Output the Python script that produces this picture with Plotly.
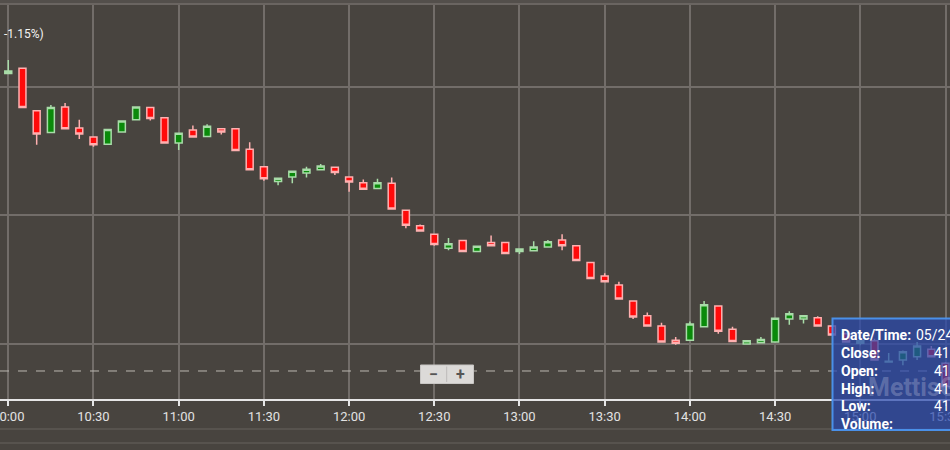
import plotly.graph_objects as go

# ---------------- data ----------------
day = "2024-05-24"
times = [f"{day} {10 + (5 * i) // 60:02d}:{(5 * i) % 60:02d}" for i in range(67)]

opens = [41.921, 41.929, 41.863, 41.829, 41.869, 41.836, 41.822, 41.811, 41.830, 41.849,
         41.868, 41.852, 41.813, 41.833, 41.823, 41.835, 41.835, 41.803, 41.776, 41.753,
         41.760, 41.766, 41.771, 41.775, 41.760, 41.751, 41.742, 41.750, 41.708, 41.684,
         41.671, 41.649, 41.661, 41.644, 41.658, 41.658, 41.644, 41.645, 41.651, 41.662,
         41.653, 41.627, 41.606, 41.592, 41.567, 41.544, 41.528, 41.506, 41.506, 41.527,
         41.559, 41.523, 41.500, 41.502, 41.503, 41.539, 41.539, 41.541, 41.528, 41.516,
         41.501, 41.505, 41.472, 41.475, 41.480, 41.492, 41.470]
highs = [41.942, 41.930, 41.864, 41.872, 41.875, 41.849, 41.822, 41.834, 41.847, 41.869,
         41.868, 41.852, 41.828, 41.840, 41.842, 41.835, 41.835, 41.814, 41.776, 41.758,
         41.769, 41.776, 41.780, 41.775, 41.760, 41.756, 41.757, 41.759, 41.708, 41.686,
         41.671, 41.665, 41.661, 41.652, 41.669, 41.658, 41.648, 41.660, 41.662, 41.671,
         41.653, 41.627, 41.610, 41.597, 41.567, 41.549, 41.533, 41.511, 41.535, 41.567,
         41.559, 41.527, 41.505, 41.511, 41.540, 41.551, 41.544, 41.543, 41.528, 41.518,
         41.510, 41.508, 41.486, 41.490, 41.503, 41.497, 41.472]
lows = [41.920, 41.868, 41.810, 41.829, 41.835, 41.819, 41.807, 41.811, 41.830, 41.849,
        41.848, 41.813, 41.802, 41.822, 41.823, 41.826, 41.801, 41.771, 41.754, 41.747,
        41.750, 41.759, 41.771, 41.763, 41.737, 41.741, 41.742, 41.710, 41.680, 41.676,
        41.653, 41.646, 41.644, 41.644, 41.653, 41.641, 41.640, 41.645, 41.651, 41.646,
        41.630, 41.602, 41.597, 41.570, 41.539, 41.528, 41.503, 41.499, 41.506, 41.527,
        41.516, 41.504, 41.500, 41.502, 41.503, 41.530, 41.532, 41.528, 41.514, 41.503,
        41.498, 41.475, 41.471, 41.467, 41.475, 41.480, 41.434]
closes = [41.925, 41.868, 41.827, 41.868, 41.835, 41.827, 41.810, 41.834, 41.847, 41.869,
          41.851, 41.813, 41.828, 41.822, 41.839, 41.830, 41.801, 41.771, 41.757, 41.758,
          41.769, 41.772, 41.777, 41.767, 41.752, 41.741, 41.751, 41.710, 41.685, 41.676,
          41.655, 41.656, 41.644, 41.652, 41.653, 41.641, 41.648, 41.651, 41.659, 41.653,
          41.630, 41.602, 41.597, 41.570, 41.542, 41.528, 41.503, 41.501, 41.531, 41.561,
          41.520, 41.504, 41.505, 41.507, 41.540, 41.547, 41.544, 41.528, 41.514, 41.503,
          41.505, 41.475, 41.473, 41.488, 41.497, 41.480, 41.434]

ref_line_price = 41.458
x_range = [f"{day} 09:57:05", f"{day} 15:31:35"]
y_range = [41.4144, 42.0276]
tip_labels = ["Date/Time:", "Close:", "Open:", "High:", "Low:", "Volume:"]
tip_values = ["05/24", "41.47", "41.50", "41.51", "41.46", ""]
change_text = "-1.15%)"

# ---------------- layout helpers ----------------
W, H = 950, 450
M_T, M_B = 5, 51
PLOT_H = H - M_T - M_B


def px_x(x):
    return x / W


def px_y(y):
    return (H - M_B - y) / PLOT_H


BG = "#48443f"
GRID = "#726d69"

fig = go.Figure()
fig.add_trace(go.Candlestick(
    x=times, open=opens, high=highs, low=lows, close=closes,
    increasing=dict(fillcolor="#0a8a0a", line=dict(color="#a8dca8", width=1.5)),
    decreasing=dict(fillcolor="#ff0a0a", line=dict(color="#ffb0b0", width=1.5)),
    whiskerwidth=0, hoverinfo="skip", showlegend=False,
))

shapes = []
# top strip + border
shapes.append(dict(type="rect", xref="paper", yref="paper", x0=0, x1=1,
                   y0=1, y1=px_y(0), fillcolor="#534f4b", line=dict(width=0), layer="below"))
shapes.append(dict(type="line", xref="paper", yref="paper", x0=0, x1=1,
                   y0=px_y(4), y1=px_y(4), line=dict(color="#6a6561", width=2)))
# dashed reference line
shapes.append(dict(type="line", xref="paper", yref="y", x0=0, x1=1,
                   y0=ref_line_price, y1=ref_line_price,
                   line=dict(color="#bcb7b2", width=1, dash="dash")))
# bottom separator lines
for yy in (429, 443):
    shapes.append(dict(type="line", xref="paper", yref="paper", x0=0, x1=1,
                       y0=px_y(yy), y1=px_y(yy), line=dict(color="#5d5854", width=1.5)))
# zoom control
shapes.append(dict(type="rect", xref="paper", yref="paper",
                   x0=px_x(420.5), x1=px_x(473.5), y0=px_y(383.5), y1=px_y(365),
                   fillcolor="#dcdad8", line=dict(color="#c8c6c4", width=1)))
shapes.append(dict(type="line", xref="paper", yref="paper",
                   x0=px_x(446.7), x1=px_x(446.7), y0=px_y(382), y1=px_y(366.5),
                   line=dict(color="#bdbbb9", width=1)))
# tooltip box
shapes.append(dict(type="rect", xref="paper", yref="paper",
                   x0=px_x(832.5), x1=px_x(960), y0=px_y(430), y1=px_y(318.5),
                   fillcolor="rgba(40,72,175,0.72)", line=dict(color="#4a90e8", width=2),
                   layer="above"))

annotations = []
annotations.append(dict(xref="paper", yref="paper", x=px_x(2), y=px_y(34),
                        xanchor="left", yanchor="middle", text=change_text, showarrow=False,
                        font=dict(family="Roboto", size=12, color="#f2f2f2")))
annotations.append(dict(xref="paper", yref="paper", x=px_x(433.5), y=px_y(374),
                        xanchor="center", yanchor="middle", text="<b>−</b>", showarrow=False,
                        font=dict(family="Roboto", size=16, color="#555555")))
annotations.append(dict(xref="paper", yref="paper", x=px_x(460), y=px_y(374),
                        xanchor="center", yanchor="middle", text="<b>+</b>", showarrow=False,
                        font=dict(family="Roboto", size=16, color="#555555")))
# watermark
annotations.append(dict(xref="paper", yref="paper", x=px_x(866), y=px_y(387),
                        xanchor="left", yanchor="middle", text="<b>MettisGlobal</b>",
                        showarrow=False,
                        font=dict(family="Roboto", size=25, color="rgba(200,205,230,0.30)")))
rows_y = [335, 352.5, 370.5, 388.5, 406, 423.5]
for lab, val, yy in zip(tip_labels, tip_values, rows_y):
    annotations.append(dict(xref="paper", yref="paper", x=px_x(839), y=px_y(yy),
                            xanchor="left", yanchor="middle", text=f"<b>{lab}</b>",
                            showarrow=False,
                            font=dict(family="Roboto", size=14, color="#ffffff")))
    if val:
        vx = 914 if lab == "Date/Time:" else 932
        annotations.append(dict(xref="paper", yref="paper", x=px_x(vx), y=px_y(yy),
                                xanchor="left", yanchor="middle", text=val,
                                showarrow=False,
                                font=dict(family="Roboto", size=14, color="#ffffff")))

fig.update_layout(
    width=W, height=H,
    margin=dict(l=0, r=0, t=M_T, b=M_B, pad=0, autoexpand=False),
    paper_bgcolor=BG, plot_bgcolor=BG,
    showlegend=False,
    shapes=shapes,
    annotations=annotations,
    xaxis=dict(
        type="date", range=x_range, rangeslider=dict(visible=False),
        tick0=f"{day} 10:00", dtick=1800000, tickformat="%H:%M",
        showgrid=True, gridcolor=GRID, gridwidth=1.5,
        showline=True, linecolor="#e6e6e6", linewidth=1.5,
        ticks="outside", ticklen=5, tickwidth=1.5, tickcolor="#e6e6e6",
        tickfont=dict(family="Roboto", size=13, color="#e2e2e2"),
        ticklabeloverflow="allow", zeroline=False, fixedrange=True,
        automargin=False,
    ),
    yaxis=dict(
        range=y_range, tick0=41.1, dtick=0.2,
        showgrid=True, gridcolor=GRID, gridwidth=1.5,
        showticklabels=False, ticks="", zeroline=False, showline=False,
        fixedrange=True, automargin=False,
    ),
)

fig.write_html(
    "out.html",
    config={"displayModeBar": False},
    post_script="document.body.style.margin='0';document.body.style.overflow='hidden';"
                "document.body.style.background='" + BG + "';",
)
